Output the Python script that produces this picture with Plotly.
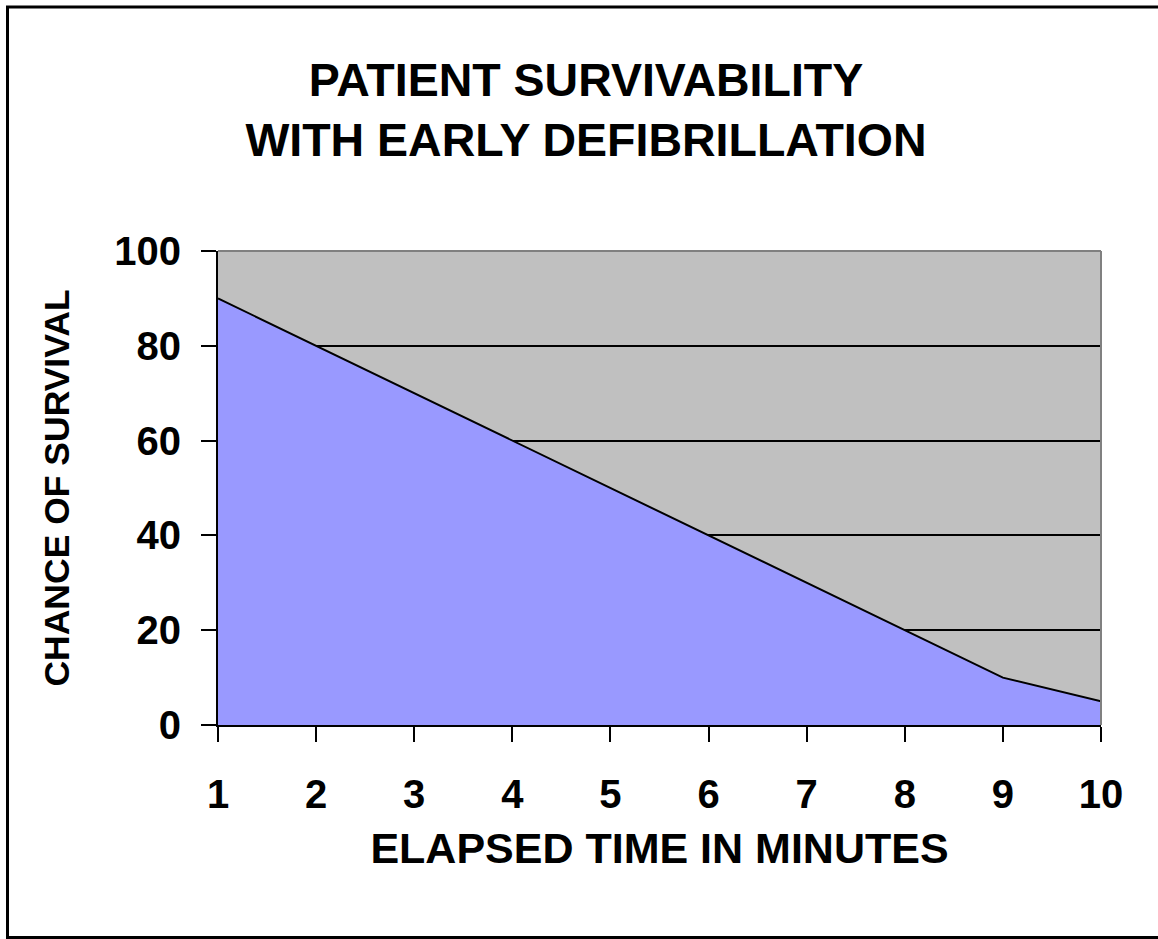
import plotly.graph_objects as go

minutes = [1, 2, 3, 4, 5, 6, 7, 8, 9, 10]
survival = [90, 80, 70, 60, 50, 40, 30, 20, 10, 5]
y_ticks = [0, 20, 40, 60, 80, 100]

FONT = "Liberation Sans, Arial, sans-serif"
W, H = 1158, 939
L, R, T, B = 218, 57, 251, 214
pw, ph = W - L - R, H - T - B

fig = go.Figure()
fig.add_trace(go.Scatter(
    x=minutes, y=survival, mode="lines", fill="tozeroy",
    fillcolor="#9999FF", line=dict(color="black", width=2),
    hoverinfo="x+y", showlegend=False,
))

def px_x(p):
    return (p - L) / pw

def px_y(p):
    return (H - B - p) / ph

shapes = [
    # outer chart frame
    dict(type="rect", xref="paper", yref="paper",
         x0=px_x(7.5), x1=px_x(1164), y0=px_y(7), y1=px_y(937.5),
         line=dict(color="black", width=3), layer="above"),
    # plot-area border (top and right in gray)
    dict(type="line", xref="paper", yref="paper", x0=0, x1=1, y0=1, y1=1,
         line=dict(color="#808080", width=2), layer="above"),
    dict(type="line", xref="paper", yref="paper", x0=1, x1=1, y0=0, y1=1,
         line=dict(color="#808080", width=2), layer="above"),
]

fig.update_layout(
    width=W, height=H,
    margin=dict(l=L, r=R, t=T, b=B, pad=0),
    paper_bgcolor="white", plot_bgcolor="#C0C0C0",
    title=dict(
        text="PATIENT SURVIVABILITY<br>WITH EARLY DEFIBRILLATION",
        font=dict(family=FONT, size=46.5, color="black", weight="bold"),
        x=0.506, xanchor="center", xref="container",
        y=1 - 96 / H, yanchor="top", yref="container",
    ),
    shapes=shapes,
    xaxis=dict(
        range=[1, 10], tickmode="array", tickvals=minutes,
        ticks="outside", ticklen=15, tickwidth=2, tickcolor="black",
        showline=True, linecolor="black", linewidth=2,
        showgrid=False, zeroline=False,
        tickfont=dict(family=FONT, size=40, color="black", weight="bold"),
        ticklabelstandoff=18,
        title=dict(text="ELAPSED TIME IN MINUTES", standoff=18,
                   font=dict(family=FONT, size=43, color="black", weight="bold")),
    ),
    yaxis=dict(
        range=[0, 100], tickmode="array", tickvals=y_ticks,
        ticks="outside", ticklen=15, tickwidth=2, tickcolor="black",
        showline=True, linecolor="black", linewidth=2,
        showgrid=True, gridcolor="black", gridwidth=2, zeroline=False,
        tickfont=dict(family=FONT, size=40, color="black", weight="bold"),
        ticklabelstandoff=12,
        title=dict(text="CHANCE OF SURVIVAL", standoff=34,
                   font=dict(family=FONT, size=35.5, color="black", weight="bold")),
    ),
)

fig.write_html(
    "out.html",
    config={"displayModeBar": False},
    post_script="document.body.style.margin='0';document.body.style.overflow='hidden';",
)
